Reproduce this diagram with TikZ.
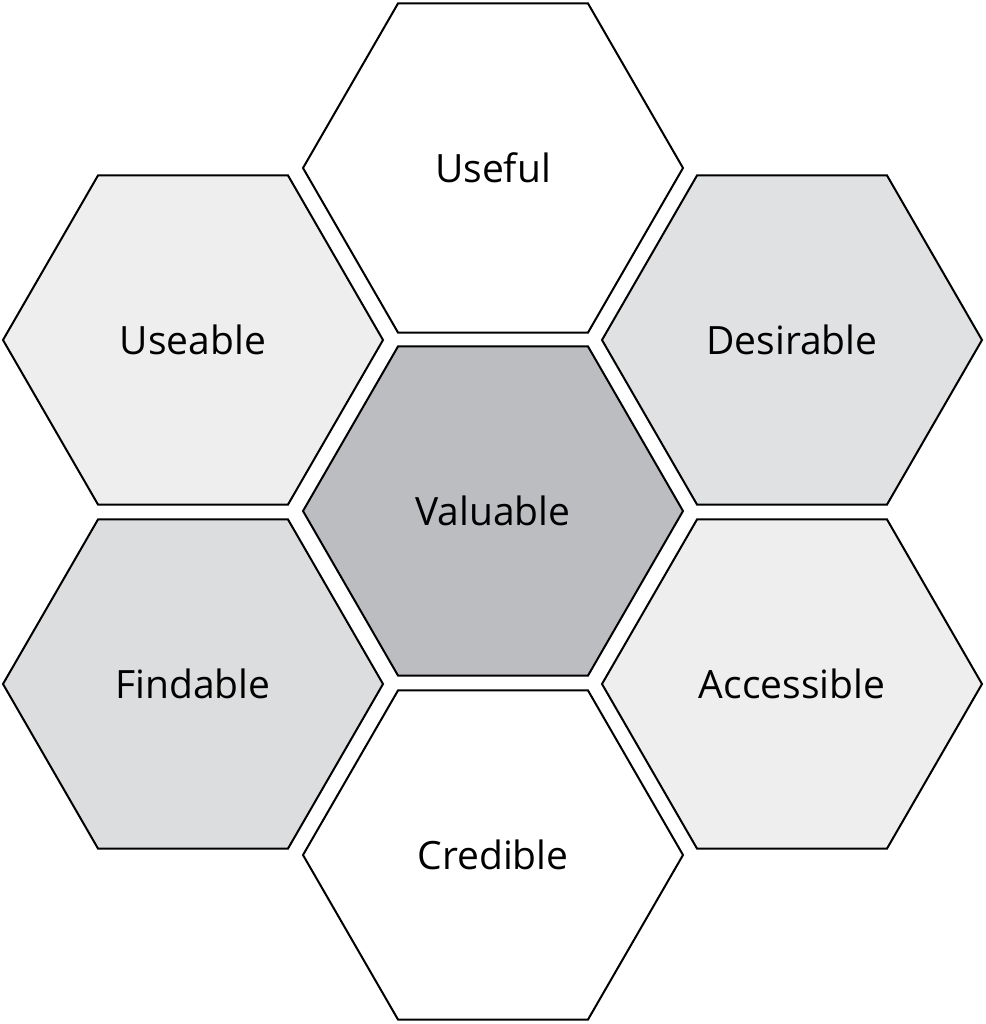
\documentclass[tikz,border=0pt]{standalone}
\usepackage{fontspec}
\setmainfont{Open Sans}
\usetikzlibrary{shapes.geometric}
\definecolor{cA}{HTML}{EEEEEF}
\definecolor{cB}{HTML}{E0E1E2}
\definecolor{cC}{HTML}{BCBDC0}
\definecolor{cD}{HTML}{DCDDDE}
\begin{document}
\begin{tikzpicture}[x=1pt,y=-1pt,
  hexa/.style={regular polygon,regular polygon sides=6,
    minimum size=380pt,inner sep=0pt,draw=black,line width=2pt,
    font=\fontsize{39}{44}\selectfont}]
\useasboundingbox (0,0) rectangle (985,1024);
\node[hexa,fill=white] (useful) at (493,168) {Useful};
\node[hexa,fill=cA] (useable) at (193,340) {Useable};
\node[hexa,fill=cB] (desirable) at (792,340) {Desirable};
\node[hexa,fill=cC] (valuable) at (493,511) {Valuable};
\node[hexa,fill=cD] (findable) at (193,684) {Findable};
\node[hexa,fill=cA] (accessible) at (792,684) {Accessible};
\node[hexa,fill=white] (credible) at (493,855) {Credible};
\end{tikzpicture}
\end{document}
